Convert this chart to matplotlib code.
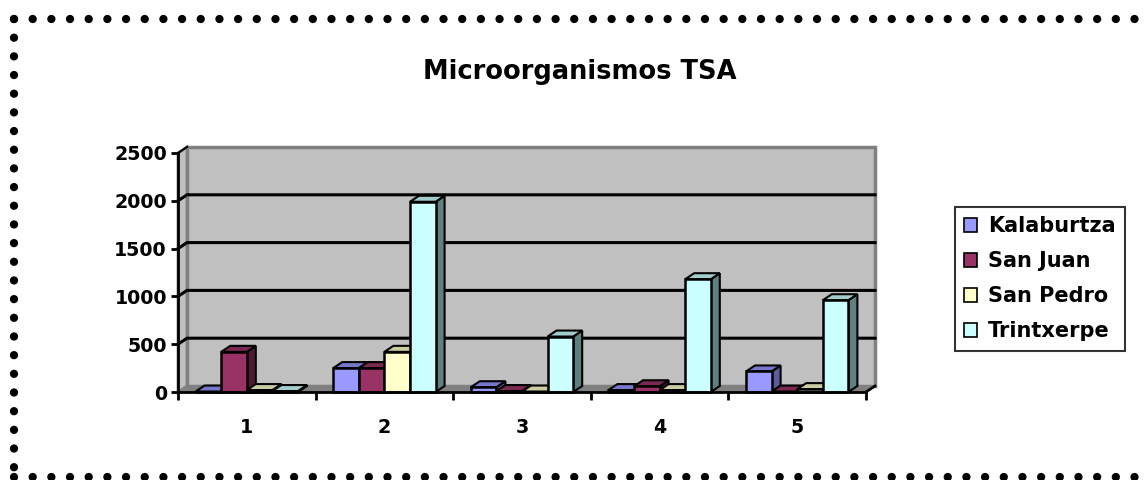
import matplotlib
matplotlib.use("Agg")
from matplotlib import pyplot as plt
from matplotlib.patches import Polygon, Patch
from matplotlib.lines import Line2D

# datos
categorias = [1, 2, 3, 4, 5]
series = ["Kalaburtza", "San Juan", "San Pedro", "Trintxerpe"]
kalaburtza = [5, 250, 50, 20, 215]
san_juan = [420, 250, 10, 60, 5]
san_pedro = [20, 420, 5, 20, 30]
trintxerpe = [10, 1990, 580, 1180, 960]
valores = [kalaburtza, san_juan, san_pedro, trintxerpe]
yticks = [0, 500, 1000, 1500, 2000, 2500]

# colores: frente, arriba, lado
frente = ["#9999FF", "#993366", "#FFFFCC", "#CCFFFF"]
arriba = ["#7777CC", "#7A2952", "#CCCCA3", "#A3CCCC"]
lado = ["#5C5C99", "#4D1A33", "#99997A", "#5F8080"]

plt.rcParams['font.family'] = ['DejaVu Sans']
plt.rcParams['font.weight'] = 'bold'

W, H = 1144, 480
fig = plt.figure(figsize=(W / 100, H / 100), dpi=100)
ax = fig.add_axes([178 / W, (H - 392) / H, (866 - 178) / W, (392 - 153) / H])
ax.set_xlim(0.5, 5.5)
ax.set_ylim(0, 2500)
ax.patch.set_visible(False)

# profundidad 3D en unidades de datos (9 px a la derecha, 6 px arriba)
ddx = 9 * 5.0 / (866 - 178)
ddy = 6 * 2500.0 / (392 - 153)

# pared del fondo, pared izquierda y suelo
ax.add_patch(Polygon([(0.5 + ddx, ddy), (5.5 + ddx, ddy), (5.5 + ddx, 2500 + ddy), (0.5 + ddx, 2500 + ddy)],
                     closed=True, facecolor="#C0C0C0", edgecolor="#808080", lw=2.5, clip_on=False, zorder=0))
ax.add_patch(Polygon([(0.5, 0), (0.5, 2500), (0.5 + ddx, 2500 + ddy), (0.5 + ddx, ddy)],
                     closed=True, facecolor="#C0C0C0", edgecolor="#808080", lw=2, clip_on=False, zorder=0.5))
ax.add_patch(Polygon([(0.5, 0), (5.5, 0), (5.5 + ddx, ddy), (0.5 + ddx, ddy)],
                     closed=True, facecolor="#808080", edgecolor="#808080", lw=1, clip_on=False, zorder=0.5))

# lineas de division
for v in yticks[1:-1]:
    ax.plot([0.5, 0.5 + ddx, 5.5 + ddx], [v, v + ddy, v + ddy], color="black", lw=2.2,
            clip_on=False, zorder=1, solid_joinstyle="miter")
ax.plot([0.5, 0.5 + ddx], [2500, 2500 + ddy], color="black", lw=1.5, clip_on=False, zorder=1)
ax.plot([5.5, 5.5 + ddx], [0, ddy], color="black", lw=2, clip_on=False, zorder=1)

# barras 3D
w = 0.186
z = 2
for c_idx, cat in enumerate(categorias):
    for s_idx in range(len(series)):
        h = valores[s_idx][c_idx]
        x0 = cat + (s_idx - 2) * w
        x1 = x0 + w
        ax.add_patch(Polygon([(x1, 0), (x1, h), (x1 + ddx, h + ddy), (x1 + ddx, ddy)], closed=True,
                             facecolor=lado[s_idx], edgecolor="black", lw=1.5, clip_on=False, zorder=z))
        ax.add_patch(Polygon([(x0, h), (x1, h), (x1 + ddx, h + ddy), (x0 + ddx, h + ddy)], closed=True,
                             facecolor=arriba[s_idx], edgecolor="black", lw=1.5, clip_on=False, zorder=z + 0.1))
        ax.bar(x0, h, width=w, align="edge", color=frente[s_idx], edgecolor="black", lw=1.8,
               zorder=z + 0.2, clip_on=False)
        z += 1

# ejes
for s in ["top", "right"]:
    ax.spines[s].set_visible(False)
for s in ["left", "bottom"]:
    ax.spines[s].set_linewidth(2)
    ax.spines[s].set_zorder(200)
ax.set_yticks(yticks)
ax.set_yticklabels([str(v) for v in yticks], fontsize=13.7, fontweight="bold")
ax.tick_params(axis="y", length=5, width=2, pad=3)
ax.set_xticks(categorias)
ax.set_xticklabels([str(c) for c in categorias], fontsize=13.7, fontweight="bold")
ax.set_xticks([0.5, 1.5, 2.5, 3.5, 4.5, 5.5], minor=True)
ax.tick_params(axis="x", which="major", length=0, pad=19)
ax.tick_params(axis="x", which="minor", length=6, width=2)

fig.text(580 / W, 1 - 72 / H, "Microorganismos TSA", ha="center", va="center",
         fontsize=18.5, fontweight="bold")

handles = [Patch(facecolor=frente[i], edgecolor="black", lw=1.2) for i in range(len(series))]
leg = fig.legend(handles, series, loc="upper left", bbox_to_anchor=(955 / W, 1 - 207 / H),
                 frameon=True, fancybox=False, shadow=False, borderaxespad=0,
                 prop={"weight": "bold", "size": 15}, handlelength=0.6, handleheight=0.6,
                 handletextpad=0.55, labelspacing=0.72, borderpad=0.45)
leg.get_frame().set_edgecolor("black")
leg.get_frame().set_linewidth(1.5)

# borde punteado del grafico
dots = dict(color="black", lw=6, linestyle=(0, (0.001, 2.24)), dash_capstyle="round",
            transform=fig.transFigure, clip_on=False)
fig.add_artist(Line2D([14 / W, 1.0], [1 - 19 / H, 1 - 19 / H], **dots))
fig.add_artist(Line2D([14 / W, 14 / W], [1 - 19 / H, 0.0], **dots))
fig.add_artist(Line2D([14 / W, 1.0], [1 - 477 / H, 1 - 477 / H], **dots))

fig.savefig("out.png", dpi=100, facecolor="white")
